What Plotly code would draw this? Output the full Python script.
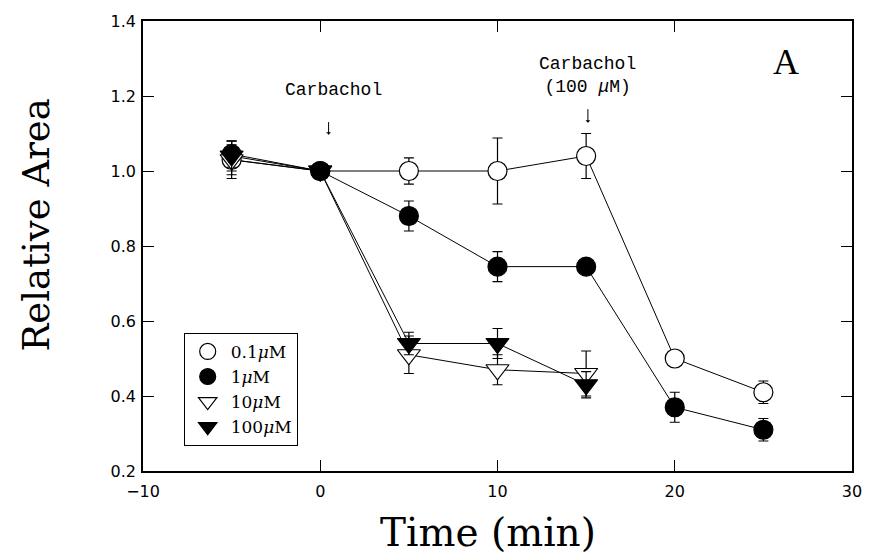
import plotly.graph_objects as go

# ---- data ----
time_long = [-5, 0, 5, 10, 15, 20, 25]
time_short = [-5, 0, 5, 10, 15]

c01_y = [1.03, 1.00, 1.00, 1.00, 1.04, 0.50, 0.41]
c01_err = [0.04, 0.0, 0.035, 0.088, 0.06, 0.01, 0.03]

c1_y = [1.045, 1.00, 0.88, 0.745, 0.745, 0.37, 0.31]
c1_err = [0.035, 0.0, 0.04, 0.04, 0.01, 0.04, 0.03]

c10_y = [1.03, 1.00, 0.51, 0.47, 0.46]
c10_err = [0.05, 0.0, 0.05, 0.04, 0.06]

c100_y = [1.04, 1.00, 0.54, 0.54, 0.43]
c100_err = [0.04, 0.0, 0.03, 0.04, 0.035]

series = [
    ("0.1<i>μ</i>M", time_long, c01_y, c01_err, "circle", "white", 19),
    ("1<i>μ</i>M", time_long, c1_y, c1_err, "circle", "black", 19),
    ("10<i>μ</i>M", time_short, c10_y, c10_err, "triangle-down", "white", 20),
    ("100<i>μ</i>M", time_short, c100_y, c100_err, "triangle-down", "black", 20),
]

x_ticks = [-10, 0, 10, 20, 30]
x_labels = ["\u221210", "0", "10", "20", "30"]
y_ticks = [0.2, 0.4, 0.6, 0.8, 1.0, 1.2, 1.4]
y_labels = ["0.2", "0.4", "0.6", "0.8", "1.0", "1.2", "1.4"]

fig = go.Figure()

# connecting lines (under all markers)
for name, xs, ys, errs, sym, fill, size in series:
    fig.add_trace(go.Scatter(
        x=xs, y=ys, mode="lines", showlegend=False, hoverinfo="skip",
        line=dict(color="black", width=1),
    ))

# markers with error bars
for name, xs, ys, errs, sym, fill, size in series:
    fig.add_trace(go.Scatter(
        x=xs, y=ys, mode="markers", name=name,
        marker=dict(symbol=sym, size=size, color=fill,
                    line=dict(color="black", width=1.2)),
        error_y=dict(type="data", array=errs, visible=True,
                     color="black", thickness=1.2, width=5),
    ))

axis_common = dict(
    showgrid=False, zeroline=False, showline=True, linecolor="black",
    linewidth=1.5, mirror="ticks", ticks="inside", ticklen=11,
    tickcolor="black", tickwidth=1.2,
    tickfont=dict(family="DejaVu Sans", size=16, color="black"),
)

fig.update_xaxes(range=[-10, 30], tickvals=x_ticks, ticktext=x_labels,
                 ticklabelstandoff=5, **axis_common)
fig.update_yaxes(range=[0.2, 1.4], tickvals=y_ticks, ticktext=y_labels,
                 ticklabelstandoff=2, **axis_common)

annotations = [
    dict(x=0.73, y=1.216, xref="x", yref="y", text="Carbachol", showarrow=False,
         font=dict(family="Liberation Mono", size=18, color="black")),
    dict(x=0.47, y=1.097, xref="x", yref="y", text="", showarrow=True,
         ax=0, ay=-14, arrowhead=1, arrowsize=0.8, arrowwidth=1, arrowcolor="black"),
    dict(x=15.1, y=1.256, xref="x", yref="y", text="Carbachol<br>(100 <i>μ</i>M)",
         showarrow=False,
         font=dict(family="Liberation Mono", size=18, color="black")),
    dict(x=15.1, y=1.129, xref="x", yref="y", text="", showarrow=True,
         ax=0, ay=-15, arrowhead=1, arrowsize=0.8, arrowwidth=1, arrowcolor="black"),
    dict(x=26.3, y=1.29, xref="x", yref="y", text="A", showarrow=False,
         font=dict(family="Liberation Serif", size=36, color="black")),
    dict(x=-0.150, y=0.547, xref="paper", yref="paper", text="Relative Area",
         textangle=-90, showarrow=False, xanchor="center", yanchor="middle",
         font=dict(family="DejaVu Serif", size=37, color="black")),
    dict(x=0.486, y=-0.1365, xref="paper", yref="paper", text="Time (min)",
         showarrow=False, xanchor="center", yanchor="middle",
         font=dict(family="DejaVu Serif", size=39, color="black")),
]

fig.update_layout(
    width=874, height=556,
    margin=dict(l=143, r=17, t=21, b=85),
    paper_bgcolor="white", plot_bgcolor="white",
    annotations=annotations,
    legend=dict(x=0.0574, y=0.307, xanchor="left", yanchor="top",
                bordercolor="black", borderwidth=1, bgcolor="white",
                itemwidth=36,
                font=dict(family="DejaVu Serif", size=17, color="black"),
                tracegroupgap=0),
    showlegend=True,
)

fig.write_html("out.html")
